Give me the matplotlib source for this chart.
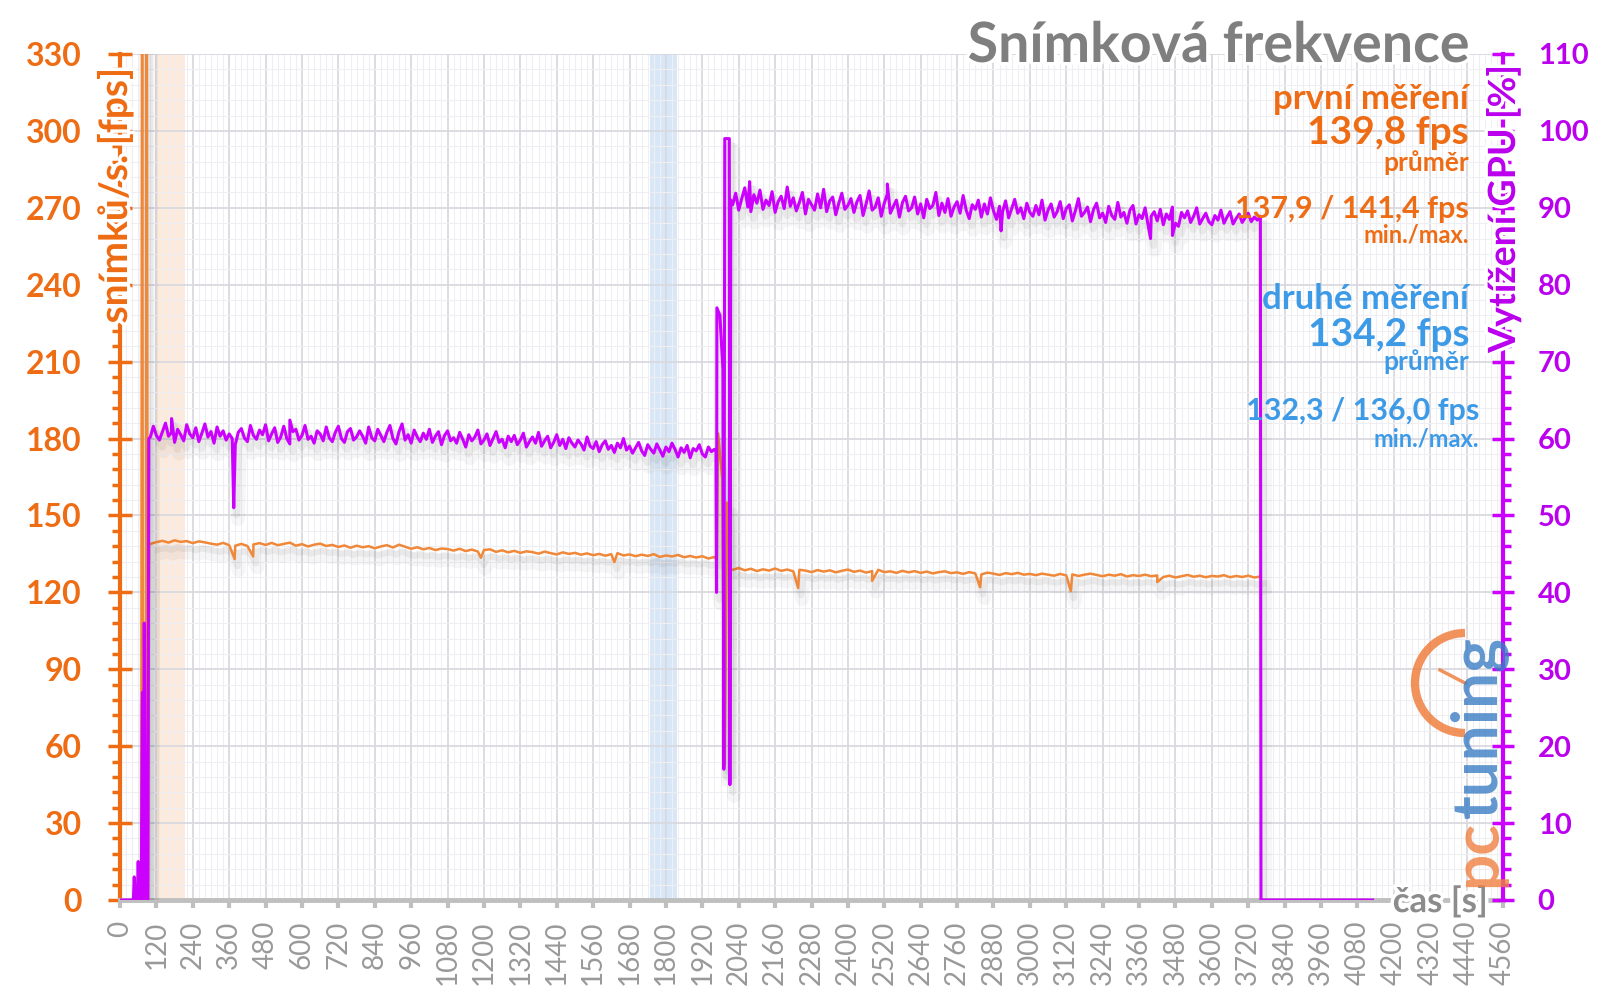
import numpy as np
import matplotlib
matplotlib.use("Agg")
import matplotlib.pyplot as plt
import matplotlib.patheffects as pe
from matplotlib.patches import Arc
from matplotlib.ticker import MultipleLocator

plt.rcParams['font.family'] = ['Lato', 'DejaVu Sans']

# colours
ORANGE = '#ee6c14'
ORANGE_LINE = '#f0883a'
PURPLE = '#cc00ff'
PURPLE_TXT = '#bb00ee'
BLUE = '#3d9ae6'
GRAY = '#8c8c8c'

# ---- data ----
# start-up phase
fps_start_t = [70, 73, 76, 85, 88, 92, 96]
fps_start_v = [0, 420, 0, 0, 420, 0, 138.6]
gpu_start_t = [0, 44, 47, 50, 57, 60, 63, 70, 74, 77, 80, 84, 88, 92, 95]
gpu_start_v = [0, 0, 3, 0, 0, 5, 0, 0, 27, 0, 36, 10, 0, 0, 60]

# first run: fps every 20 s, GPU every 10 s (100 s .. 1960 s)
fps_seg1_t = np.arange(100, 1961, 20)
fps_seg1 = [
    138.9, 139.6, 140.1, 139.4, 140.3, 139.7, 140.0, 139.2, 139.9, 139.5,
    139.0, 138.6, 139.3, 138.4, 138.2, 138.9, 138.1, 138.7, 139.2, 138.5,
    139.3, 138.4, 138.9, 139.4, 138.2, 138.8, 137.9, 138.6, 139.0, 138.1,
    138.5, 137.7, 138.3, 137.4, 138.2, 137.6, 138.0, 137.2, 137.9, 138.4,
    137.5, 138.6, 137.8, 137.0, 137.6, 136.8, 137.3, 136.5, 137.1, 136.9,
    136.3, 137.0, 136.1, 136.7, 135.9, 136.5, 136.8, 135.8, 136.4, 135.6,
    136.2, 135.4, 136.0, 135.7, 135.1, 135.9, 135.3, 134.8, 135.6, 135.0,
    135.4, 134.7, 135.2, 134.5, 135.0, 134.3, 134.9, 135.3, 134.4, 134.8,
    134.1, 134.7, 134.2, 134.9, 133.8, 134.4, 134.0, 134.6, 133.7, 134.2,
    133.6, 134.1, 133.2, 133.8]
gpu_seg1_t = np.arange(100, 1961, 10)
gpu_seg1 = [
    60.2, 61.6, 60.4, 59.8, 60.9, 62.0, 60.3, 60.8, 59.5, 61.2,
    60.5, 59.7, 61.8, 60.6, 60.1, 61.4, 59.6, 60.7, 61.9, 60.2,
    60.9, 59.4, 61.5, 60.3, 61.0, 59.8, 60.6, 60.0, 59.2, 60.8,
    61.3, 60.1, 59.6, 61.7, 60.4, 59.9, 61.1, 60.5, 61.8, 59.7,
    60.6, 61.4, 59.5, 60.2, 61.6, 60.0, 59.3, 60.9, 61.2, 59.8,
    60.4, 61.7, 59.9, 60.3, 59.4, 61.0, 60.6, 59.7, 61.5, 60.1,
    59.6, 60.8, 61.6, 60.0, 59.5, 60.9, 61.3, 59.8, 60.2, 61.0,
    60.3, 59.4, 61.5, 60.1, 59.7, 61.2, 60.4, 59.6, 60.8, 61.7,
    60.0, 59.3, 60.9, 61.9, 59.8, 60.5, 59.4, 61.1, 60.2, 59.6,
    60.7, 59.9, 61.2, 59.5, 60.3, 60.9, 59.2, 60.4, 61.0, 59.7,
    60.1, 59.4, 60.8, 59.9, 58.9, 60.5, 59.7, 60.2, 61.1, 59.3,
    59.8, 60.6, 59.1, 60.0, 60.9, 59.5, 59.9, 58.8, 60.3, 59.6,
    60.4, 59.2, 59.8, 60.7, 58.9, 59.6, 60.2, 59.4, 60.8, 59.0,
    59.7, 60.3, 58.8, 59.5, 60.5, 59.1, 59.9, 58.7, 60.1, 59.4,
    58.9, 59.8, 59.3, 58.5, 60.2, 59.0, 58.7, 59.6, 58.3, 59.2,
    59.7, 58.6, 59.1, 58.2, 59.4, 58.8, 60.0, 58.5, 59.0, 58.1,
    58.8, 59.5, 58.4, 57.8, 59.2, 58.6, 58.1, 59.3, 58.5, 57.7,
    58.9, 58.3, 59.4, 58.6, 57.6, 58.8, 58.2, 59.1, 57.5, 58.7,
    58.4, 59.2, 58.0, 57.6, 58.9, 58.3, 58.6]
fps_spike1_t = [378, 439, 1190, 1630]
fps_spike1_v = [133.0, 134.0, 133.5, 131.8]
gpu_spike1_t = [170, 375, 560]
gpu_spike1_v = [62.6, 51.0, 62.4]

# switch between runs
fps_mid_t = [1962, 1968, 1972, 1986, 1991, 1994, 2002, 2006, 2013]
fps_mid_v = [133.5, 133.0, 182, 164, 77, 53, 155, 150, 129]
gpu_mid_t = [1965, 1967, 1968, 1978, 1988, 1991, 1994, 2009, 2011, 2014]
gpu_mid_v = [58.5, 40, 77, 76, 69, 17, 99, 99, 15, 91]

# second run: fps every 20 s, GPU every 10 s (2020 s .. 3760 s)
fps_seg2_t = np.arange(2020, 3761, 20)
fps_seg2 = [
    128.8, 129.5, 128.6, 129.2, 128.3, 129.0, 128.5, 129.3, 128.4, 128.9,
    128.2, 128.8, 128.5, 127.9, 128.7, 128.1, 128.6, 127.8, 128.4, 128.9,
    128.0, 128.5, 127.7, 128.3, 128.8, 127.9, 128.2, 127.6, 128.4, 127.8,
    128.3, 127.6, 128.1, 127.4, 127.9, 128.2, 127.5, 127.8, 127.2, 127.9,
    127.4, 127.0, 127.7, 127.3, 126.8, 127.5, 127.1, 127.6, 126.9, 127.2,
    126.7, 127.3, 126.9, 126.5, 127.2, 126.6, 127.0, 126.4, 126.9, 127.3,
    126.8, 126.3, 126.9, 126.5, 127.1, 126.2, 126.7, 126.4, 126.9, 126.3,
    126.6, 126.0, 126.5, 125.8, 126.3, 126.8, 126.1, 126.5, 125.9, 126.4,
    126.2, 126.7, 125.9, 126.4, 126.0, 126.5, 125.8, 126.2]
gpu_seg2_t = np.arange(2020, 3761, 10)
gpu_seg2 = [
    90.4, 91.9, 89.7, 91.2, 92.6, 90.1, 89.5, 91.7, 90.6, 92.3,
    89.8, 91.0, 90.3, 92.1, 89.4, 90.8, 91.5, 89.9, 92.7, 90.2,
    91.3, 89.6, 90.7, 92.0, 89.2, 91.1, 90.4, 89.7, 91.8, 90.0,
    92.4, 89.5, 90.9, 91.4, 89.1, 90.6, 91.9, 89.8, 90.3, 91.2,
    89.4, 90.8, 91.6, 89.0, 90.5, 92.2, 89.7, 90.1, 91.3, 88.9,
    90.6, 91.8, 89.3, 90.2, 91.0, 88.8, 90.7, 91.5, 89.6, 90.0,
    91.4, 89.2, 90.5, 88.7, 91.1, 89.9, 90.3, 92.0, 89.0, 90.6,
    89.4, 91.2, 88.9, 90.1, 90.8, 89.3, 91.6, 89.7, 88.6, 90.4,
    89.8, 91.0, 88.8, 90.5, 89.2, 91.3, 89.6, 88.5, 90.2, 89.5,
    90.9, 88.7, 89.9, 91.1, 89.3, 90.0, 88.6, 90.6, 89.4, 88.9,
    90.3, 89.1, 91.0, 88.4, 89.7, 90.5, 88.8, 89.5, 90.8, 88.6,
    89.9, 90.4, 88.3, 89.6, 91.2, 88.9, 89.4, 90.1, 88.2, 89.8,
    90.6, 88.7, 89.3, 88.1, 90.2, 89.0, 88.5, 90.7, 88.8, 89.4,
    88.0, 89.7, 90.3, 87.9, 89.1, 88.6, 90.0, 87.7, 88.9, 89.5,
    88.3, 89.8, 87.8, 89.2, 88.5, 90.1, 88.0, 87.6, 89.4, 88.7,
    89.6, 88.1, 88.9, 90.0, 87.9, 88.6, 89.3, 88.2, 87.8, 89.0,
    88.4, 89.7, 88.0, 88.8, 89.5, 87.9, 88.6, 89.2, 88.1, 88.7,
    89.3, 88.2, 88.8, 88.4, 88.9]
fps_spike2_t = [2236, 2480, 2836, 3135, 3420]
fps_spike2_v = [121.7, 124.5, 122.0, 120.5, 124.0]
gpu_spike2_t = [2076, 2530, 2905, 3398, 3470]
gpu_spike2_v = [93.4, 93.1, 87.0, 86.0, 86.4]

gpu_end_t = [3762, 4130]
gpu_end_v = [0, 0]

# measurement windows
run1_span = (121, 214)
run2_span = (1747, 1835)


def join(ts, vs):
    t = np.concatenate([np.asarray(a, float) for a in ts])
    v = np.concatenate([np.asarray(a, float) for a in vs])
    order = np.argsort(t, kind='stable')
    return t[order], v[order]


fps_t, fps_v = join([fps_start_t, fps_seg1_t, fps_spike1_t, fps_mid_t, fps_seg2_t, fps_spike2_t],
                    [fps_start_v, fps_seg1, fps_spike1_v, fps_mid_v, fps_seg2, fps_spike2_v])
gpu_t, gpu_v = join([gpu_start_t, gpu_seg1_t, gpu_spike1_t, gpu_mid_t, gpu_seg2_t, gpu_spike2_t, gpu_end_t],
                    [gpu_start_v, gpu_seg1, gpu_spike1_v, gpu_mid_v, gpu_seg2, gpu_spike2_v, gpu_end_v])

# ---- figure ----
W, H = 1600, 998
fig = plt.figure(figsize=(W / 100, H / 100), dpi=100)
ax1 = fig.add_axes([120 / W, 1 - 900 / H, (1503 - 120) / W, (900 - 54) / H])
ax2 = ax1.twinx()

ax1.axvspan(*run1_span, color='#fde4cf', alpha=0.75, lw=0, zorder=0)
ax1.axvspan(*run2_span, color='#cfe2f6', alpha=0.8, lw=0, zorder=0)


def shadow(lw):
    return [pe.SimpleLineShadow(offset=(3, -8), shadow_color='k', alpha=0.035, linewidth=lw + 8),
            pe.SimpleLineShadow(offset=(2, -5), shadow_color='k', alpha=0.05, linewidth=lw + 3),
            pe.Normal()]


ax1.plot(fps_t, fps_v, color=ORANGE_LINE, lw=1.8, zorder=3, path_effects=shadow(1.8))
ax2.plot(gpu_t, gpu_v, color=PURPLE, lw=2.2, zorder=3, path_effects=shadow(2.2))

ax1.set_xlim(0, 4560)
ax1.set_ylim(0, 330)
ax2.set_ylim(0, 110)

ax1.xaxis.set_major_locator(MultipleLocator(120))
ax1.xaxis.set_minor_locator(MultipleLocator(20))
ax1.yaxis.set_major_locator(MultipleLocator(30))
ax1.yaxis.set_minor_locator(MultipleLocator(6))
ax2.yaxis.set_major_locator(MultipleLocator(10))
ax2.yaxis.set_minor_locator(MultipleLocator(2))

ax1.grid(which='major', color='#d9d9df', lw=1.3, zorder=0)
ax1.grid(which='minor', color='#efeff3', lw=0.8, zorder=0)
ax1.set_axisbelow(True)

for s in ['top', 'right']:
    ax1.spines[s].set_visible(False)
for s in ['top', 'left', 'bottom']:
    ax2.spines[s].set_visible(False)
ax1.spines['left'].set_color(ORANGE)
ax1.spines['left'].set_linewidth(3)
ax1.spines['bottom'].set_color('#bfbfbf')
ax1.spines['bottom'].set_linewidth(3.5)
ax2.spines['right'].set_color(PURPLE)
ax2.spines['right'].set_linewidth(3)

ax1.tick_params(axis='y', which='major', direction='inout', length=17, width=2.5,
                color=ORANGE, labelcolor=ORANGE, labelsize=23, pad=19)
ax1.tick_params(axis='y', which='minor', direction='out', length=6, width=2.5, color=ORANGE)
ax2.tick_params(axis='y', which='major', direction='inout', length=16, width=2.5,
                color=PURPLE, labelcolor=PURPLE_TXT, labelsize=21, pad=17)
ax2.tick_params(axis='y', which='minor', direction='out', length=6, width=2.5, color=PURPLE)
ax1.tick_params(axis='x', which='major', direction='out', length=6, width=3,
                color='#bfbfbf', labelcolor='#999999', labelsize=20, labelrotation=90, pad=9)
ax1.tick_params(axis='x', which='minor', length=0)
for lab in ax1.get_yticklabels() + ax2.get_yticklabels():
    lab.set_fontweight('bold')

halo = [pe.withStroke(linewidth=5, foreground='white')]


def ftext(x, y, s, stroke=True, **kw):
    # place text by pixel position of the 1600x998 canvas
    if stroke:
        kw['path_effects'] = halo
    return fig.text(x / W, 1 - y / H, s, **kw)


ftext(1469, 46, 'Snímková frekvence', ha='right', va='center', size=40,
      weight='bold', color='#7f7f7f')
note = dict(stroke=False, ha='right', va='center', weight='bold')
ftext(1469, 99, 'první měření', size=25, color=ORANGE, **note)
ftext(1469, 133, '139,8 fps', size=28, color=ORANGE, **note)
ftext(1469, 163, 'průměr', size=19, color=ORANGE, **note)
ftext(1469, 209, '137,9 / 141,4 fps', size=22, color=ORANGE, **note)
ftext(1469, 235, 'min./max.', size=17, color=ORANGE, **note)
ftext(1469, 299, 'druhé měření', size=25, color=BLUE, **note)
ftext(1469, 334, '134,2 fps', size=28, color=BLUE, **note)
ftext(1469, 362, 'průměr', size=19, color=BLUE, **note)
ftext(1479, 411, '132,3 / 136,0 fps', size=22, color=BLUE, **note)
ftext(1479, 439, 'min./max.', size=17, color=BLUE, **note)

ftext(115, 196, 'snímků/s. [fps]', ha='center', va='center', rotation=90, size=28,
      weight='bold', color=ORANGE)
ftext(1503, 209, 'Vytížení GPU [%]', ha='center', va='center', rotation=90, size=27,
      weight='bold', color=PURPLE_TXT)
ftext(1488, 902, 'čas [s]', ha='right', va='center', size=25, weight='bold', color=GRAY)

# pctuning logo
fig.text(1478 / W, 1 - 818 / H, 'tuning', rotation=90, ha='center', va='bottom', size=46,
         weight='bold', color='#3b7dc4', alpha=0.8)
fig.text(1478 / W, 1 - 820 / H, 'pc', rotation=90, ha='center', va='top', size=46,
         weight='bold', color='#f08040', alpha=0.8)
fig.add_artist(Arc((1465 / W, 1 - 683 / H), 100 / W, 100 / H, theta1=90, theta2=270,
                   transform=fig.transFigure, color='#f08040', lw=6, alpha=0.85))
fig.add_artist(plt.Line2D([1440 / W, 1465 / W], [1 - 670 / H, 1 - 683 / H],
                          transform=fig.transFigure, color='#f08040', lw=2.5, alpha=0.85))

fig.savefig('out.png', dpi=100)
